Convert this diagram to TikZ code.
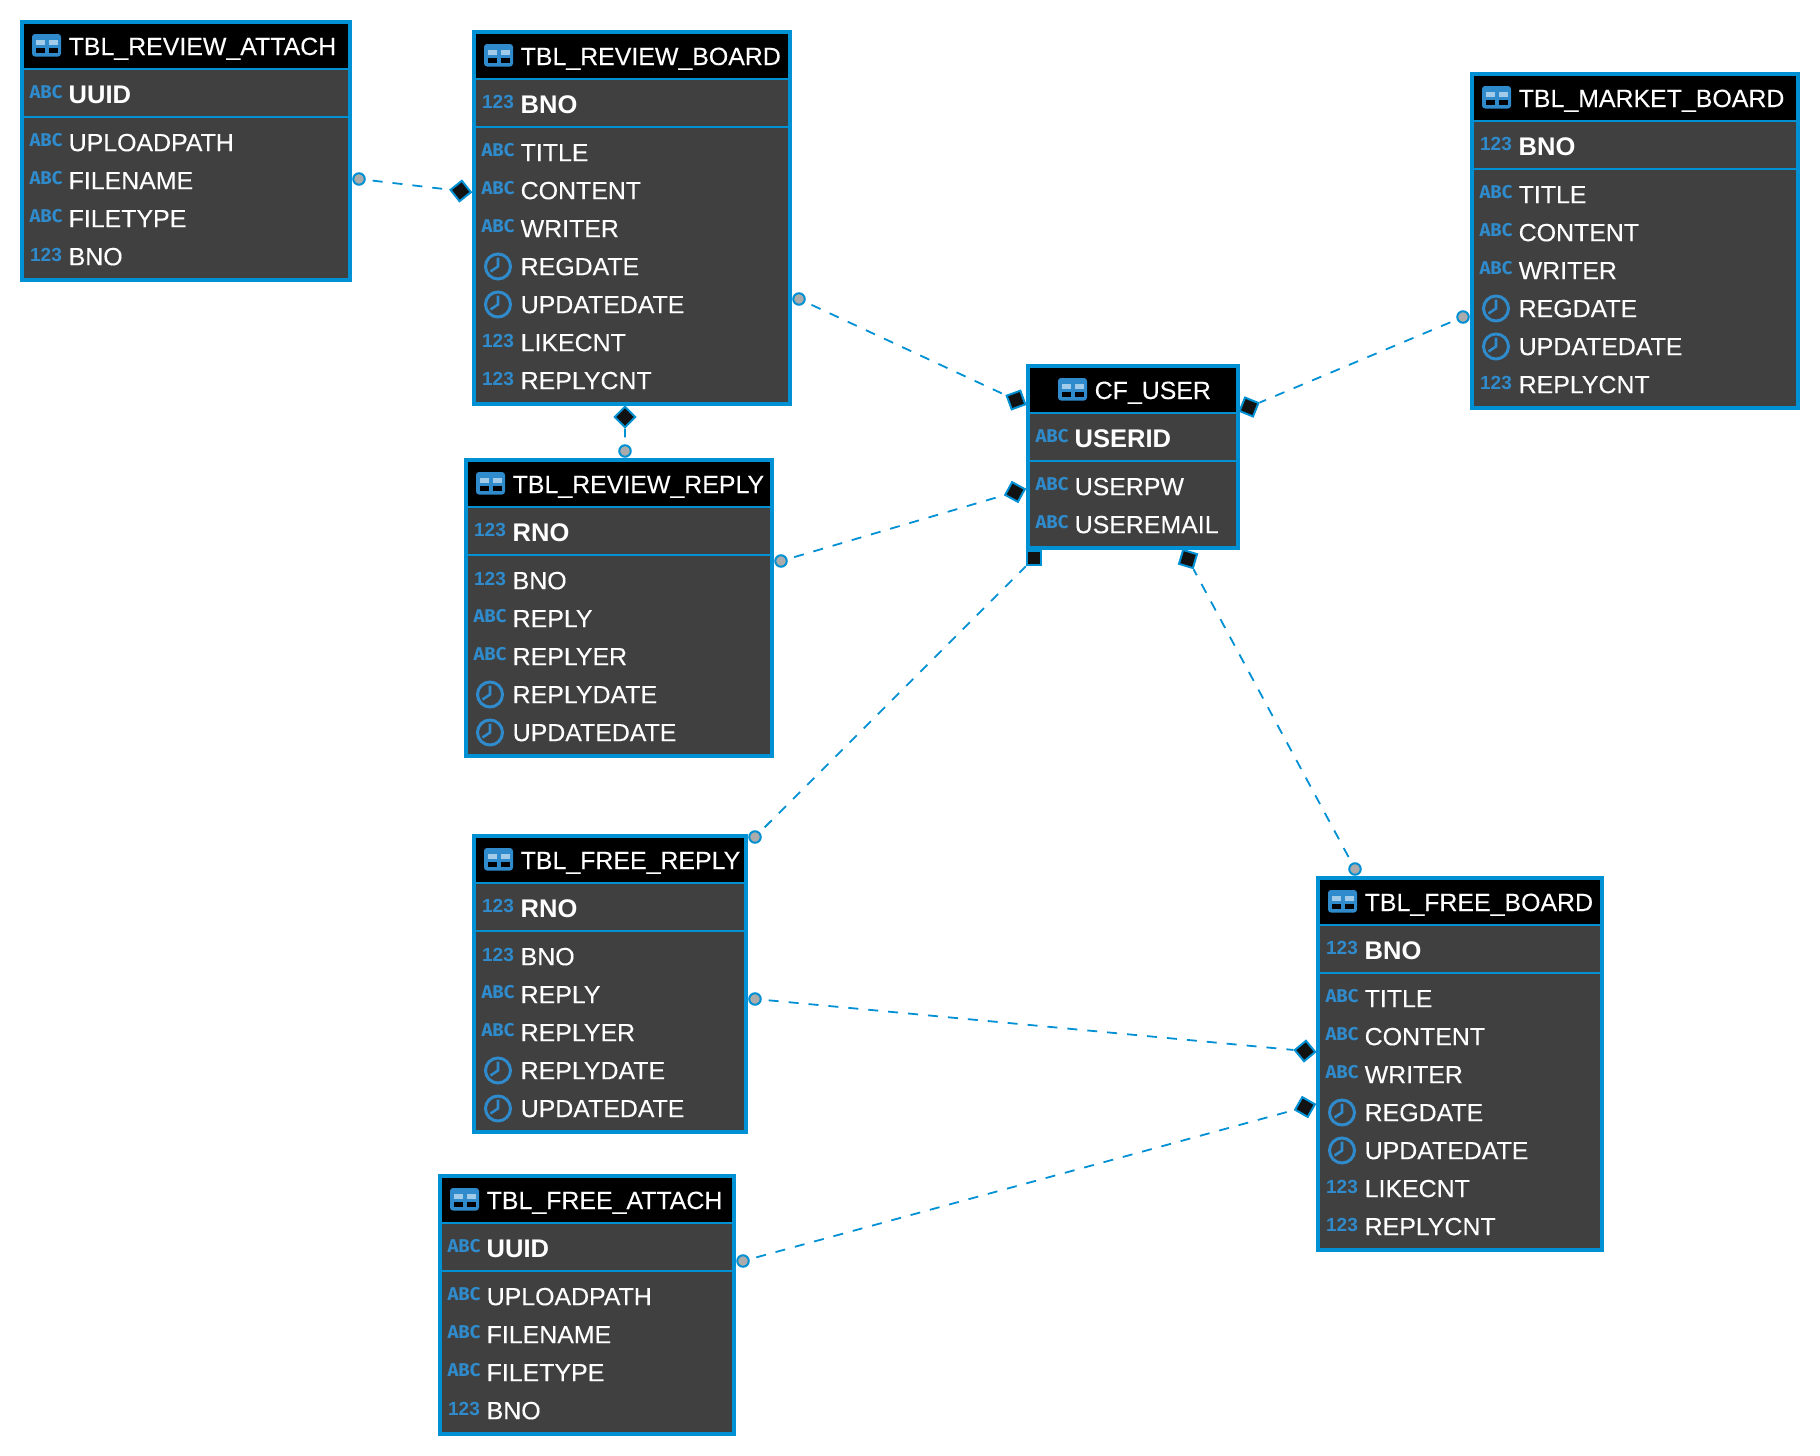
\documentclass[tikz,border=0pt]{standalone}
\usepackage{fontspec}
\setmainfont{Liberation Sans}[FakeBold=0.15,BoldFeatures={FakeBold=0}]
\newfontfamily\abcfamily{Fira Sans}
\usepackage{tikz}
\definecolor{tblblue}{HTML}{0090D4}
\definecolor{fldblue}{HTML}{2F8BCB}
\definecolor{tblgray}{HTML}{404040}
\tikzset{
  tblbody/.style={draw=tblblue,fill=tblgray,line width=4pt,inner sep=0pt,outer sep=0pt,anchor=north west},
  rule/.style={draw=tblblue,line width=2pt},
  fldtext/.style={text=white,inner sep=0pt,anchor=base west,font=\fontsize{24.9}{30}\selectfont},
  typetext/.style={text=fldblue,inner sep=0pt},
  clockface/.style={circle,draw=fldblue,line width=3pt,inner sep=0pt,minimum size=25pt},
  pkmark/.style={circle,draw=tblblue,fill=black!33,line width=2pt,inner sep=0pt,minimum size=11.5pt},
  fkmark/.style={rectangle,draw=tblblue,fill=black!93,line width=2pt,inner sep=0pt,minimum size=14.5pt},
  link/.style={draw=tblblue,line width=1.8pt,dash pattern=on 10pt off 10pt,dash phase=13pt}
}
\newcommand{\iconabc}[2]{\node[typetext,font=\abcfamily\bfseries\fontsize{18.5}{20}\selectfont] (#2) at (26,#1-2) {ABC};}
\newcommand{\iconnum}[2]{\node[typetext,font=\bfseries\fontsize{19}{20}\selectfont] (#2) at (26,#1-2) {123};}
\newcommand{\iconclk}[2]{\node[clockface] (#2) at (26,#1) {};
  \draw[fldblue,line width=2.6pt] (#2.center) ++(0,-9) -- (#2.center) -- ++(-7.5,5);}
\newcommand{\tblicon}[1]{
  \fill[fldblue,rounded corners=3pt] ({#1+12},14) rectangle ({#1+41},36.5);
  \foreach \cx in {16,28.5}{
    \fill[fldblue!45!white] ({#1+\cx},20) rectangle ({#1+\cx+9.2},25);
    \fill[black] ({#1+\cx},27.5) rectangle ({#1+\cx+9.2},33);
  }
}
% name, top left, width, height, title shift, title, key type, key, fields
\newcommand{\dbtable}[9]{
  \begin{scope}[shift={(#2)}]
    \node[tblbody,minimum width=#3pt-4pt,minimum height=#4pt-4pt] (#1) at (2,2) {};
    \fill[black] (4,4) rectangle ({#3-4},48);
    \draw[rule] (4,49) -- ({#3-4},49) (4,97) -- ({#3-4},97);
    \tblicon{#5}
    \node[fldtext] (#1-title) at ({48.5+#5},35) {#6};
    \csname icon#7\endcsname{74}{#1-ktype}
    \node[fldtext,font=\bfseries\fontsize{25.5}{30}\selectfont] (#1-key) at (48.5,83) {#8};
    \foreach \ty/\lbl [count=\i] in {#9}{
      \pgfmathsetmacro{\yy}{122.5+38*(\i-1)}
      \csname icon\ty\endcsname{\yy}{#1-type\i}
      \node[fldtext] (#1-f\i) at (48.5,\yy+8.7) {\lbl};
    }
  \end{scope}
}
\begin{document}
\begin{tikzpicture}[x=1pt,y=-1pt]
  \useasboundingbox (0,0) rectangle (1820,1456);
  \dbtable{attachR}{20,20}{332}{262}{0}{TBL\_REVIEW\_ATTACH}{abc}{UUID}
    {abc/UPLOADPATH,abc/FILENAME,abc/FILETYPE,num/BNO}
  \dbtable{boardR}{472,30}{320}{376}{0}{TBL\_REVIEW\_BOARD}{num}{BNO}
    {abc/TITLE,abc/CONTENT,abc/WRITER,clk/REGDATE,clk/UPDATEDATE,num/LIKECNT,num/REPLYCNT}
  \dbtable{replyR}{464,458}{310}{300}{0}{TBL\_REVIEW\_REPLY}{num}{RNO}
    {num/BNO,abc/REPLY,abc/REPLYER,clk/REPLYDATE,clk/UPDATEDATE}
  \dbtable{user}{1026,364}{214}{186}{20}{CF\_USER}{abc}{USERID}
    {abc/USERPW,abc/USEREMAIL}
  \dbtable{market}{1470,72}{330}{338}{0}{TBL\_MARKET\_BOARD}{num}{BNO}
    {abc/TITLE,abc/CONTENT,abc/WRITER,clk/REGDATE,clk/UPDATEDATE,num/REPLYCNT}
  \dbtable{replyF}{472,834}{276}{300}{0}{TBL\_FREE\_REPLY}{num}{RNO}
    {num/BNO,abc/REPLY,abc/REPLYER,clk/REPLYDATE,clk/UPDATEDATE}
  \dbtable{boardF}{1316,876}{288}{376}{0}{TBL\_FREE\_BOARD}{num}{BNO}
    {abc/TITLE,abc/CONTENT,abc/WRITER,clk/REGDATE,clk/UPDATEDATE,num/LIKECNT,num/REPLYCNT}
  \dbtable{attachF}{438,1174}{298}{262}{0}{TBL\_FREE\_ATTACH}{abc}{UUID}
    {abc/UPLOADPATH,abc/FILENAME,abc/FILETYPE,num/BNO}
  % relation ends
  \foreach \nm/\x/\y in {c1/359/179,c2/799/299,c3/625/451,c4/781/561,c5/755/837,c6/1355/869,c7/1463/317,c8/755/999,c9/743/1261}
    \node[pkmark] (\nm) at (\x,\y) {};
  \foreach \nm/\x/\y/\r in {d1/460.7/191/38.4,d2/1016/400/20,d3/625/417/45,d4/1015/492/61.4,d5/1034/558/0,d6/1188/559/-16.7,d7/1249/407/67.9,d8/1305/1051/39.6,d9/1305/1107/60.3}
    \node[fkmark,rotate=\r] (\nm) at (\x,\y) {};
  \foreach \i in {1,...,9}
    \draw[link] (c\i) -- (d\i);
\end{tikzpicture}
\end{document}
